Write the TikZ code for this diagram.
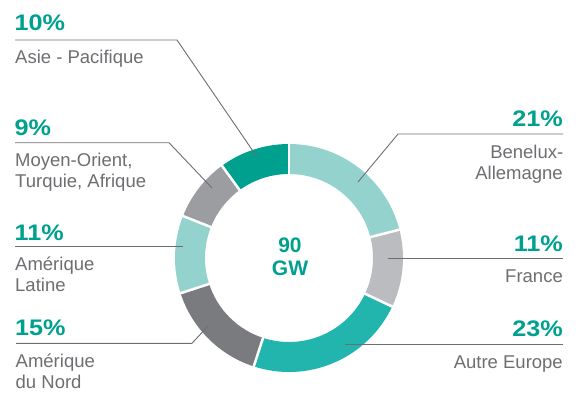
\documentclass[tikz,border=0pt]{standalone}
\usepackage{fontspec}
\setmainfont{Liberation Sans}
\newfontfamily\pctfont[FakeStretch=1.12]{Liberation Sans}
\usetikzlibrary{calc}
\definecolor{pctteal}{HTML}{00A08F}
\definecolor{labgrey}{HTML}{6D6E71}
\definecolor{linegrey}{HTML}{6D6E71}
\definecolor{segAsie}{HTML}{00A08F}
\definecolor{segLtTeal}{HTML}{94D2CD}
\definecolor{segLtGrey}{HTML}{BBBCBF}
\definecolor{segTeal}{HTML}{22B5AE}
\definecolor{segDkGrey}{HTML}{7A7B7F}
\definecolor{segGrey}{HTML}{9C9DA0}
\begin{document}
\begin{tikzpicture}[x=1pt,y=1pt,
  pct/.style={font=\pctfont\bfseries\fontsize{22.5}{24}\selectfont, text=pctteal, inner sep=0pt},
  lab/.style={font=\fontsize{18.5}{20}\selectfont, text=labgrey, inner sep=0pt},
  ctrtxt/.style={font=\bfseries\fontsize{21}{22}\selectfont, text=pctteal, inner sep=0pt, anchor=base},
  leader/.style={draw=linegrey, line width=0.9pt},
  gapline/.style={draw=white, line width=2.5pt}]
\useasboundingbox (0,0) rectangle (576,392);
\coordinate (C) at (289,134);
% donut segments
\foreach \a/\b/\c in {90/14.4/segLtTeal, 14.4/-25.2/segLtGrey, -25.2/-108/segTeal,
  -108/-162/segDkGrey, -162/-201.6/segLtTeal, -201.6/-234/segGrey, -234/-270/segAsie}{
  \fill[\c] ($(C)+(\a:114pt)$) arc[start angle=\a, end angle=\b, radius=114pt]
    -- ($(C)+(\b:84pt)$) arc[start angle=\b, end angle=\a, radius=84pt] -- cycle;
}
\foreach \a in {90,14.4,-25.2,-108,-162,-201.6,-234}{
  \draw[gapline] ($(C)+(\a:80pt)$) -- ($(C)+(\a:118pt)$);
}
% centre text
\node[ctrtxt] (c90) at (290,139.3) {90};
\node[ctrtxt] (cGW) at (290,117) {GW};
% leader coordinates
\coordinate (sAsie) at (15,352);   \coordinate (kAsie) at (177,352);  \coordinate (eAsie) at (257,235);
\coordinate (sMO) at (15,249.3);   \coordinate (kMO) at (169,249.3);  \coordinate (eMO) at (212,204);
\coordinate (sLat) at (15,145.3);  \coordinate (eLat) at (183,145.3);
\coordinate (sNord) at (16,48.7);  \coordinate (kNord) at (192,48.7); \coordinate (eNord) at (208,66);
\coordinate (sBen) at (563,258);   \coordinate (kBen) at (398,258);   \coordinate (eBen) at (358,210);
\coordinate (sFra) at (563,133.3); \coordinate (eFra) at (388,133.3);
\coordinate (sAut) at (563,47.7);  \coordinate (eAut) at (345,47.7);
\draw[leader] (sAsie) -- (kAsie) -- (eAsie);
\draw[leader] (sMO) -- (kMO) -- (eMO);
\draw[leader] (sLat) -- (eLat);
\draw[leader] (sNord) -- (kNord) -- (eNord);
\draw[leader] (sBen) -- (kBen) -- (eBen);
\draw[leader] (sFra) -- (eFra);
\draw[leader] (sAut) -- (eAut);
% left labels
\node[pct, anchor=base west] (pAsie) at (14.5,361) {10\%};
\node[lab, anchor=base west] (lAsie) at (15,328.7) {Asie - Pacifique};
\node[pct, anchor=base west] (pMO) at (14.5,257) {9\%};
\node[lab, anchor=base west] (lMO1) at (15,225.3) {Moyen-Orient,};
\node[lab, anchor=base west] (lMO2) at (15,205) {Turquie, Afrique};
\node[pct, anchor=base west] (pLat) at (14.5,152) {11\%};
\node[lab, anchor=base west] (lLat1) at (15,122) {Amérique};
\node[lab, anchor=base west] (lLat2) at (15,100.5) {Latine};
\node[pct, anchor=base west] (pNord) at (15,56.3) {15\%};
\node[lab, anchor=base west] (lNord1) at (15.5,25) {Amérique};
\node[lab, anchor=base west] (lNord2) at (15.5,4) {du Nord};
% right labels
\node[pct, anchor=base east] (pBen) at (563,266) {21\%};
\node[lab, anchor=base east] (lBen1) at (563.5,233.7) {Benelux-};
\node[lab, anchor=base east] (lBen2) at (563,212.7) {Allemagne};
\node[pct, anchor=base east] (pFra) at (563,141) {11\%};
\node[lab, anchor=base east] (lFra) at (563,109.3) {France};
\node[pct, anchor=base east] (pAut) at (563,55.3) {23\%};
\node[lab, anchor=base east] (lAut) at (563,23.7) {Autre Europe};
\end{tikzpicture}
\end{document}
